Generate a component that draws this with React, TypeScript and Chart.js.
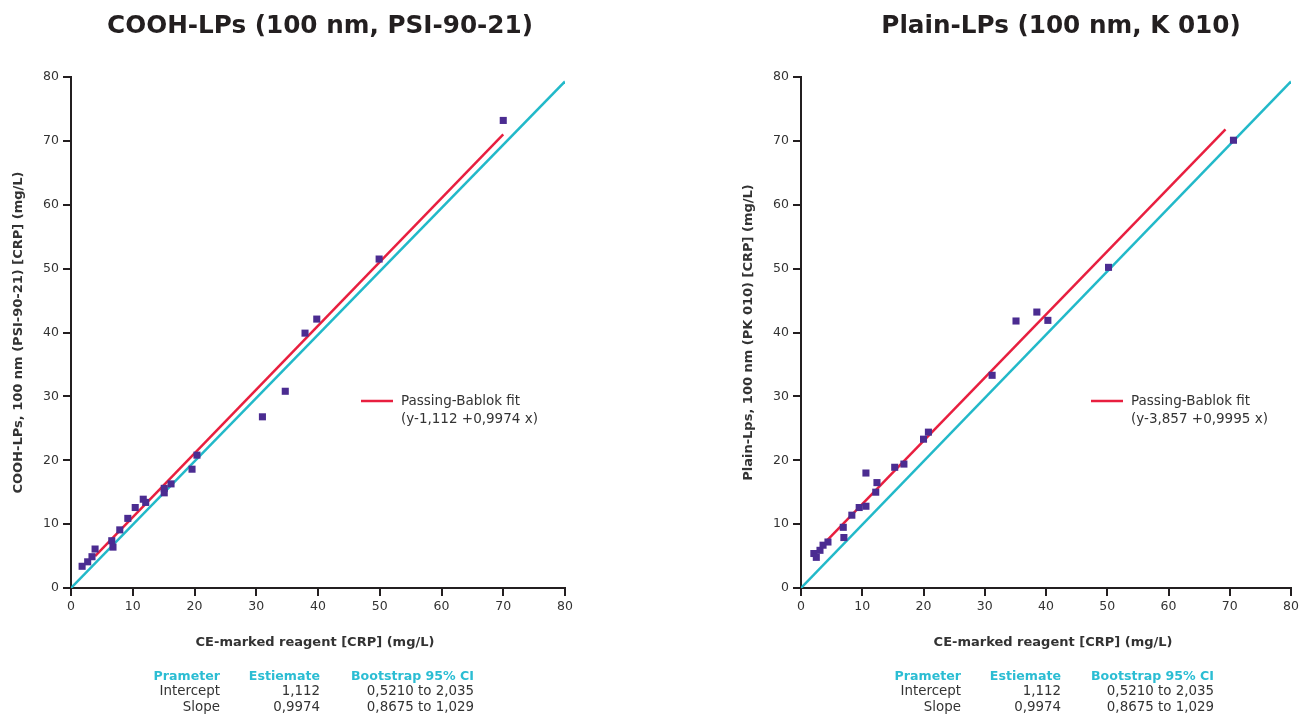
import React, { useEffect, useRef } from "react";
import { Chart, registerables } from "chart.js";

Chart.register(...registerables);

// ---------- Data ----------
const xTicks = [0, 10, 20, 30, 40, 50, 60, 70, 80];

// COOH-LPs (left panel)
const coohX = [1.8, 2.7, 3.4, 3.9, 6.6, 6.8, 7.9, 9.2, 10.4, 11.7, 12.1, 15.1, 15.1, 16.2, 19.6, 20.4, 31.0, 34.7, 37.9, 39.8, 49.9, 70.0];
const coohY = [3.4, 4.1, 4.9, 6.1, 7.4, 6.4, 9.1, 10.9, 12.6, 13.9, 13.4, 15.6, 14.9, 16.3, 18.6, 20.8, 26.8, 30.8, 39.9, 42.1, 51.5, 73.2];
const coohFitX = [3.9, 70.0];
const coohFitY = [5.0, 71.0];

// Plain-LPs (right panel)
const plainX = [2.1, 2.5, 3.1, 3.6, 4.4, 6.9, 7.0, 8.3, 9.5, 10.6, 10.6, 12.2, 12.4, 15.3, 16.8, 20.0, 20.8, 31.2, 35.1, 38.5, 40.3, 50.2, 70.6];
const plainY = [5.4, 4.8, 5.9, 6.7, 7.2, 9.5, 7.9, 11.4, 12.6, 12.8, 18.0, 15.0, 16.5, 18.9, 19.4, 23.3, 24.4, 33.3, 41.8, 43.2, 41.9, 50.2, 70.1];
const plainFitX = [4.3, 69.3];
const plainFitY = [7.5, 71.8];

// identity (reference) line
const identityX = [0, 80];
const identityY = [0, 79.3];

// table
const tableHeader = ["Prameter", "Estiemate", "Bootstrap 95% CI"];
const tableRow1 = ["Intercept", "1,112", "0,5210 to 2,035"];
const tableRow2 = ["Slope", "0,9974", "0,8675 to 1,029"];

const xAxisTitle = "CE-marked reagent [CRP] (mg/L)";

const FONT = '"DejaVu Sans", Verdana, sans-serif';
const PURPLE = "#4b2c91";
const RED = "#e81f3f";
const CYAN = "#22b9c9";
const AXIS = "#231f20";
const TEXT = "#333333";
const HEAD = "#2bbdd3";

type PanelCfg = {
  left: number;
  width: number;
  title: string;
  titleX: number;
  xTitleDx: number;
  yTitle: string;
  xs: number[];
  ys: number[];
  fitX: number[];
  fitY: number[];
  legend2: string;
  cols: number[];
  padRight: number;
};

const panels: PanelCfg[] = [
  {
    left: 0,
    width: 651,
    title: "COOH-LPs (100 nm, PSI-90-21)",
    titleX: 320,
    xTitleDx: -3,
    yTitle: "COOH-LPs, 100 nm (PSI-90-21) [CRP] (mg/L)",
    xs: coohX,
    ys: coohY,
    fitX: coohFitX,
    fitY: coohFitY,
    legend2: "(y-1,112 +0,9974 x)",
    cols: [220, 320, 474],
    padRight: 86,
  },
  {
    left: 730,
    width: 572,
    title: "Plain-LPs (100 nm, K 010)",
    titleX: 331,
    xTitleDx: 7,
    yTitle: "Plain-Lps, 100 nm (PK 010) [CRP] (mg/L)",
    xs: plainX,
    ys: plainY,
    fitX: plainFitX,
    fitY: plainFitY,
    legend2: "(y-3,857 +0,9995 x)",
    cols: [231, 331, 484],
    padRight: 9,
  },
];

function Panel({ cfg }: { cfg: PanelCfg }) {
  const ref = useRef<HTMLCanvasElement | null>(null);

  useEffect(() => {
    if (!ref.current) return;
    const pts = cfg.xs.map((x, i) => ({ x, y: cfg.ys[i] }));
    const fit = cfg.fitX.map((x, i) => ({ x, y: cfg.fitY[i] }));
    const ident = identityX.map((x, i) => ({ x, y: identityY[i] }));

    const decor = {
      id: "decor",
      afterDraw(chart: any) {
        const ctx = chart.ctx as CanvasRenderingContext2D;
        const ca = chart.chartArea;
        ctx.save();
        // title
        ctx.fillStyle = AXIS;
        ctx.textAlign = "center";
        ctx.textBaseline = "middle";
        ctx.font = `bold 24.7px ${FONT}`;
        ctx.fillText(cfg.title, cfg.titleX, 27);
        // x title
        ctx.fillStyle = TEXT;
        ctx.font = `bold 13px ${FONT}`;
        ctx.fillText(xAxisTitle, (ca.left + ca.right) / 2 + cfg.xTitleDx, 643);
        // y title
        ctx.save();
        ctx.translate(19, (ca.top + ca.bottom) / 2);
        ctx.rotate(-Math.PI / 2);
        ctx.fillText(cfg.yTitle, 0, 0);
        ctx.restore();
        // legend
        const lx = ca.left + 290;
        const ly = 401;
        ctx.strokeStyle = RED;
        ctx.lineWidth = 2.5;
        ctx.beginPath();
        ctx.moveTo(lx, ly);
        ctx.lineTo(lx + 32, ly);
        ctx.stroke();
        ctx.font = `13.5px ${FONT}`;
        ctx.textAlign = "left";
        ctx.fillStyle = TEXT;
        ctx.fillText("Passing-Bablok fit", lx + 40, ly);
        ctx.fillText(cfg.legend2, lx + 40, ly + 18);
        // table
        ctx.textAlign = "right";
        ctx.font = `bold 12.6px ${FONT}`;
        ctx.fillStyle = HEAD;
        tableHeader.forEach((t, i) => ctx.fillText(t, cfg.cols[i], 677));
        ctx.font = `13.4px ${FONT}`;
        ctx.fillStyle = TEXT;
        tableRow1.forEach((t, i) => ctx.fillText(t, cfg.cols[i], 692));
        tableRow2.forEach((t, i) => ctx.fillText(t, cfg.cols[i], 708));
        ctx.restore();
      },
    };

    const chart = new Chart(ref.current, {
      type: "scatter",
      data: {
        datasets: [
          {
            label: "data",
            data: pts,
            pointStyle: "rect",
            pointRadius: 5,
            pointBorderWidth: 0,
            backgroundColor: PURPLE,
            borderColor: PURPLE,
            showLine: false,
          },
          {
            label: "Passing-Bablok fit",
            data: fit,
            showLine: true,
            borderColor: RED,
            borderWidth: 2.5,
            pointRadius: 0,
          },
          {
            label: "identity",
            data: ident,
            showLine: true,
            borderColor: CYAN,
            borderWidth: 2.5,
            pointRadius: 0,
          },
        ],
      },
      options: {
        animation: false,
        responsive: false,
        events: [],
        layout: { padding: { top: 77, right: cfg.padRight, left: 0, bottom: 0 } },
        plugins: { legend: { display: false }, tooltip: { enabled: false }, title: { display: false } },
        scales: {
          x: {
            type: "linear",
            min: 0,
            max: 80,
            afterBuildTicks: (s: any) => {
              s.ticks = xTicks.map((v) => ({ value: v }));
            },
            afterFit: (s: any) => {
              s.height = 129;
            },
            grid: { display: true, drawOnChartArea: false, drawTicks: true, tickLength: 8, color: AXIS, lineWidth: 2 },
            border: { display: true, color: AXIS, width: 2 },
            ticks: { color: TEXT, font: { family: FONT, size: 12.5 }, padding: 3, maxRotation: 0 },
          },
          y: {
            type: "linear",
            min: 0,
            max: 80,
            afterBuildTicks: (s: any) => {
              s.ticks = xTicks.map((v) => ({ value: v }));
            },
            afterFit: (s: any) => {
              s.width = 71;
              s.paddingTop = 0;
              s.paddingBottom = 0;
            },
            grid: { display: true, drawOnChartArea: false, drawTicks: true, tickLength: 8, color: AXIS, lineWidth: 2 },
            border: { display: true, color: AXIS, width: 2 },
            ticks: { color: TEXT, font: { family: FONT, size: 12.5 }, padding: 4 },
          },
        },
      },
      plugins: [decor],
    });
    return () => chart.destroy();
  }, [cfg]);

  return (
    <canvas
      ref={ref}
      width={cfg.width}
      height={717}
      style={{ position: "absolute", left: cfg.left, top: 0, width: cfg.width, height: 717 }}
    />
  );
}

export default function App() {
  return (
    <div style={{ position: "absolute", left: 0, top: 0, width: 1302, height: 717, background: "#ffffff", overflow: "hidden" }}>
      {panels.map((p, i) => (
        <Panel key={i} cfg={p} />
      ))}
    </div>
  );
}
